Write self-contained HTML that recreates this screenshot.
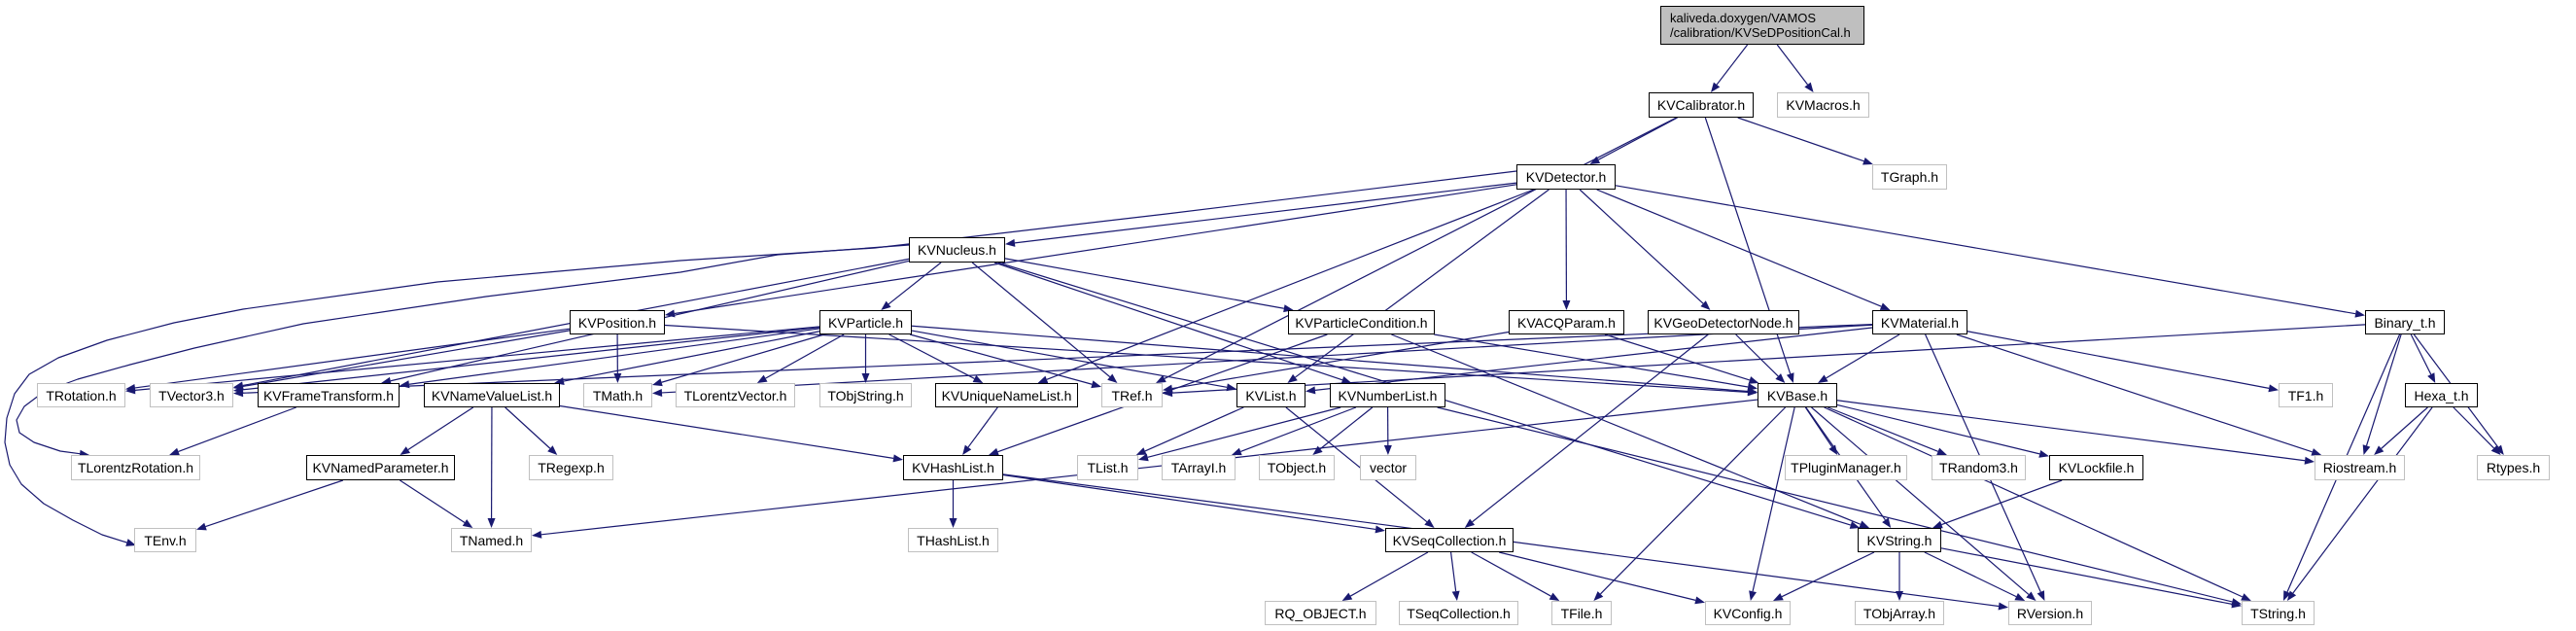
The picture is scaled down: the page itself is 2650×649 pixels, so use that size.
<!DOCTYPE html>
<html><head><meta charset="utf-8">
<style>
html,body{margin:0;padding:0;background:#fff;}
#c{position:relative;width:2650px;height:649px;overflow:hidden;background:#fff;}
.n{position:absolute;box-sizing:border-box;background:#fff;border:1.5px solid #c0c0c0;font-family:"Liberation Sans",sans-serif;font-size:14px;color:#000;display:flex;align-items:center;justify-content:center;white-space:nowrap;}
.b{border:1.5px solid #000;}
svg{position:absolute;left:0;top:0;}
</style></head><body>
<div id="c">
<svg id="s" width="2650" height="649"></svg>
<div class="n b" style="left:1708px;top:6px;width:210px;height:40px;background:#bfbfbf;justify-content:flex-start;padding-left:9px;line-height:15px;font-size:13px;">kaliveda.doxygen/VAMOS<br>/calibration/KVSeDPositionCal.h</div>
<div class="n b" style="left:1696px;top:95px;width:108px;height:26px">KVCalibrator.h</div>
<div class="n" style="left:1828px;top:95px;width:95px;height:26px">KVMacros.h</div>
<div class="n b" style="left:1560px;top:169px;width:102px;height:26px">KVDetector.h</div>
<div class="n" style="left:1926px;top:169px;width:77px;height:26px">TGraph.h</div>
<div class="n b" style="left:935px;top:244px;width:99px;height:26px">KVNucleus.h</div>
<div class="n b" style="left:586px;top:319px;width:98px;height:25px">KVPosition.h</div>
<div class="n b" style="left:843px;top:319px;width:95px;height:25px">KVParticle.h</div>
<div class="n b" style="left:1325px;top:319px;width:151px;height:25px">KVParticleCondition.h</div>
<div class="n b" style="left:1552px;top:319px;width:119px;height:25px">KVACQParam.h</div>
<div class="n b" style="left:1695px;top:319px;width:156px;height:25px">KVGeoDetectorNode.h</div>
<div class="n b" style="left:1926px;top:319px;width:98px;height:25px">KVMaterial.h</div>
<div class="n b" style="left:2433px;top:319px;width:82px;height:25px">Binary_t.h</div>
<div class="n" style="left:38px;top:394px;width:91px;height:25px">TRotation.h</div>
<div class="n" style="left:154px;top:394px;width:86px;height:25px">TVector3.h</div>
<div class="n b" style="left:265px;top:394px;width:146px;height:25px">KVFrameTransform.h</div>
<div class="n b" style="left:436px;top:394px;width:140px;height:25px">KVNameValueList.h</div>
<div class="n" style="left:600px;top:394px;width:71px;height:25px">TMath.h</div>
<div class="n" style="left:695px;top:394px;width:123px;height:25px">TLorentzVector.h</div>
<div class="n" style="left:843px;top:394px;width:95px;height:25px">TObjString.h</div>
<div class="n b" style="left:962px;top:394px;width:147px;height:25px">KVUniqueNameList.h</div>
<div class="n" style="left:1133px;top:394px;width:63px;height:25px">TRef.h</div>
<div class="n b" style="left:1272px;top:394px;width:71px;height:25px">KVList.h</div>
<div class="n b" style="left:1368px;top:394px;width:119px;height:25px">KVNumberList.h</div>
<div class="n b" style="left:1808px;top:394px;width:82px;height:25px">KVBase.h</div>
<div class="n" style="left:2344px;top:394px;width:56px;height:25px">TF1.h</div>
<div class="n b" style="left:2474px;top:394px;width:75px;height:25px">Hexa_t.h</div>
<div class="n" style="left:73px;top:468px;width:133px;height:26px">TLorentzRotation.h</div>
<div class="n b" style="left:315px;top:468px;width:153px;height:26px">KVNamedParameter.h</div>
<div class="n" style="left:544px;top:468px;width:87px;height:26px">TRegexp.h</div>
<div class="n b" style="left:929px;top:468px;width:103px;height:26px">KVHashList.h</div>
<div class="n" style="left:1108px;top:468px;width:63px;height:26px">TList.h</div>
<div class="n" style="left:1195px;top:468px;width:76px;height:26px">TArrayI.h</div>
<div class="n" style="left:1295px;top:468px;width:78px;height:26px">TObject.h</div>
<div class="n" style="left:1399px;top:468px;width:58px;height:26px">vector</div>
<div class="n" style="left:1836px;top:468px;width:126px;height:26px">TPluginManager.h</div>
<div class="n" style="left:1987px;top:468px;width:97px;height:26px">TRandom3.h</div>
<div class="n b" style="left:2108px;top:468px;width:97px;height:26px">KVLockfile.h</div>
<div class="n" style="left:2381px;top:468px;width:93px;height:26px">Riostream.h</div>
<div class="n" style="left:2548px;top:468px;width:75px;height:26px">Rtypes.h</div>
<div class="n" style="left:138px;top:543px;width:64px;height:25px">TEnv.h</div>
<div class="n" style="left:464px;top:543px;width:83px;height:25px">TNamed.h</div>
<div class="n" style="left:934px;top:543px;width:93px;height:25px">THashList.h</div>
<div class="n b" style="left:1425px;top:543px;width:132px;height:25px">KVSeqCollection.h</div>
<div class="n b" style="left:1911px;top:543px;width:86px;height:25px">KVString.h</div>
<div class="n" style="left:1301px;top:618px;width:115px;height:25px">RQ_OBJECT.h</div>
<div class="n" style="left:1439px;top:618px;width:123px;height:25px">TSeqCollection.h</div>
<div class="n" style="left:1596px;top:618px;width:62px;height:25px">TFile.h</div>
<div class="n" style="left:1754px;top:618px;width:88px;height:25px">KVConfig.h</div>
<div class="n" style="left:1908px;top:618px;width:92px;height:25px">TObjArray.h</div>
<div class="n" style="left:2066px;top:618px;width:86px;height:25px">RVersion.h</div>
<div class="n" style="left:2306px;top:618px;width:75px;height:25px">TString.h</div>
</div>
<script>
var B={T:[1708,6,1918,46],Cal:[1696,95,1804,121],Mac:[1828,95,1923,121],Det:[1560,169,1662,195],TG:[1926,169,2003,195],
Nuc:[935,244,1034,270],Pos:[586,319,684,344],Par:[843,319,938,344],PC:[1325,319,1476,344],ACQ:[1552,319,1671,344],
Geo:[1695,319,1851,344],Mat:[1926,319,2024,344],Bin:[2433,319,2515,344],TRot:[38,394,129,419],TV3:[154,394,240,419],
FT:[265,394,411,419],NVL:[436,394,576,419],TM:[600,394,671,419],TLV:[695,394,818,419],TOS:[843,394,938,419],
UNL:[962,394,1109,419],TRef:[1133,394,1196,419],KL:[1272,394,1343,419],NL:[1368,394,1487,419],KB:[1808,394,1890,419],
TF1:[2344,394,2400,419],Hex:[2474,394,2549,419],TLR:[73,468,206,494],NP:[315,468,468,494],TRe:[544,468,631,494],
HL:[929,468,1032,494],TL:[1108,468,1171,494],TAI:[1195,468,1271,494],TO:[1295,468,1373,494],vec:[1399,468,1457,494],
TPM:[1836,468,1962,494],TR3:[1987,468,2084,494],LF:[2108,468,2205,494],Rio:[2381,468,2474,494],Rty:[2548,468,2623,494],
TEnv:[138,543,202,568],TN:[464,543,547,568],THL:[934,543,1027,568],SC:[1425,543,1557,568],KS:[1911,543,1997,568],
RQ:[1301,618,1416,643],TSC:[1439,618,1562,643],TFi:[1596,618,1658,643],KC:[1754,618,1842,643],TOA:[1908,618,2000,643],
RV:[2066,618,2152,643],TS:[2306,618,2381,643]};
var E=[["T","Cal"],["T","Mac"],["Cal","Det"],["Cal","TG"],["Cal","KB"],["Cal","TRef"],
["Det","Nuc"],["Det","Pos"],["Det","KL"],["Det","UNL"],["Det","ACQ"],["Det","Geo"],["Det","Mat"],["Det","Bin"],
["Nuc","Par"],["Nuc","PC"],["Nuc","NL"],["Nuc","KS"],["Nuc","TV3"],["Nuc","FT"],["Nuc","TRef"],
["Pos","TM"],["Pos","TV3"],["Pos","TRot"],["Pos","KB"],
["Par","TV3"],["Par","FT"],["Par","NVL"],["Par","TM"],["Par","TLV"],["Par","TOS"],["Par","UNL"],["Par","TRef"],["Par","KL"],["Par","KB"],["Par","TRot"],
["PC","KB"],["PC","HL"],["PC","KS"],["ACQ","KB"],["ACQ","TRef"],["Geo","KB"],["Geo","SC"],
["Mat","KB"],["Mat","TF1"],["Mat","Rio"],["Mat","RV"],["Mat","KL"],["Mat","TM"],["Mat","TV3"],
["Bin","Rio"],["Bin","Hex"],["Bin","Rty"],["Bin","TS"],["Bin","TRef"],["Hex","Rio"],["Hex","Rty"],["Hex","TS"],
["FT","TLR"],["NVL","NP"],["NVL","TN"],["NVL","TRe"],["NVL","HL"],["NP","TEnv"],["NP","TN"],["UNL","HL"],
["KL","TL"],["KL","SC"],["NL","TL"],["NL","TAI"],["NL","TO"],["NL","vec"],["NL","TS"],
["KB","TN"],["KB","TPM"],["KB","TR3"],["KB","LF"],["KB","Rio"],["KB","RV"],["KB","TS"],["KB","KC"],["KB","TFi"],["KB","KS"],
["LF","KS"],["HL","THL"],["HL","SC"],["HL","RV"],["SC","RQ"],["SC","TSC"],["SC","TFi"],["SC","KC"],
["KS","KC"],["KS","TOA"],["KS","RV"],["KS","TS"]];
function clip(b,cx,cy,dx,dy){var hw=(b[2]-b[0])/2,hh=(b[3]-b[1])/2,t=1e9;
if(dx)t=Math.min(t,hw/Math.abs(dx));if(dy)t=Math.min(t,hh/Math.abs(dy));return [cx+dx*t,cy+dy*t];}
var C="#191970",s="";
function head(qx,qy,ux,uy){var ex=qx-ux*10,ey=qy-uy*10;
return ['<polygon fill="'+C+'" points="'+qx+','+qy+' '+(ex-uy*4)+','+(ey+ux*4)+' '+(ex+uy*4)+','+(ey-ux*4)+'"/>',ex,ey];}
E.forEach(function(e){var a=B[e[0]],b=B[e[1]];
var ax=(a[0]+a[2])/2,ay=(a[1]+a[3])/2,bx=(b[0]+b[2])/2,by=(b[1]+b[3])/2,dx=bx-ax,dy=by-ay;
var p=clip(a,ax,ay,dx,dy),q=clip(b,bx,by,-dx,-dy);
var L=Math.hypot(q[0]-p[0],q[1]-p[1]),ux=(q[0]-p[0])/L,uy=(q[1]-p[1])/L;
var h=head(q[0],q[1],ux,uy);
s+='<line x1="'+p[0]+'" y1="'+p[1]+'" x2="'+h[1]+'" y2="'+h[2]+'" stroke="'+C+'" stroke-width="1.2"/>'+h[0];});
function poly(pts){var n=pts.length,a=pts[n-2],b=pts[n-1],dx=b[0]-a[0],dy=b[1]-a[1],L=Math.hypot(dx,dy),ux=dx/L,uy=dy/L;
var h=head(b[0],b[1],ux,uy);var q=pts.slice(0,n-1).concat([[h[1],h[2]]]);
s+='<polyline points="'+q.map(function(p){return p.join(",")}).join(" ")+'" fill="none" stroke="'+C+'" stroke-width="1.2" stroke-linejoin="round"/>'+h[0];}
poly([[1560,176],[1200,220],[900,255],[700,268],[450,290],[250,318],[179,332],[110,350],[60,368],[30,385],[15,405],[7,430],[5,455],[10,478],[22,498],[45,518],[75,535],[105,550],[140,561]]);
poly([[935,252],[800,262],[700,280],[500,305],[312,333],[200,358],[134,375],[80,390],[45,403],[25,418],[17,432],[20,445],[35,455],[62,464],[92,468]]);
document.getElementById("s").innerHTML=s;
</script>
</body></html>
